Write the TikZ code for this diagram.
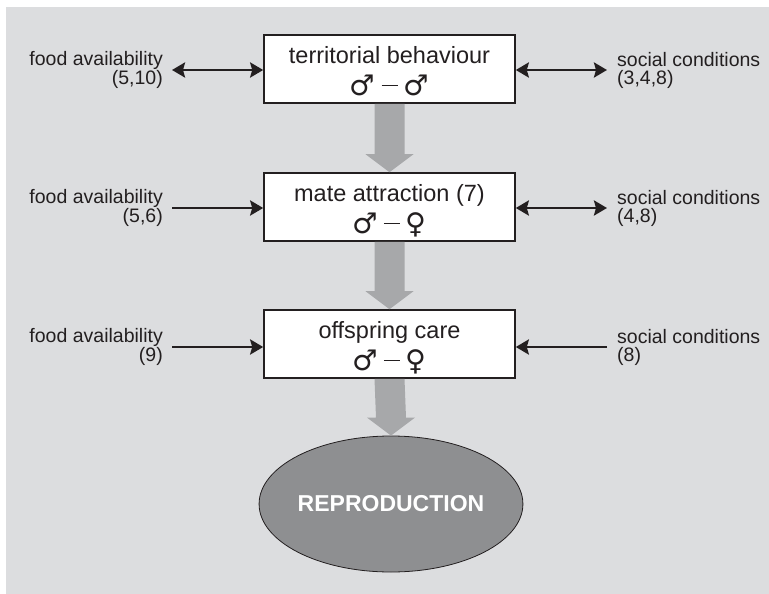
\documentclass[tikz,border=0pt]{standalone}
\usepackage{fontspec}
\setmainfont{Liberation Sans}
\newfontfamily\symfont{DejaVu Sans}
\usetikzlibrary{calc,arrows.meta,shapes.geometric}
\definecolor{bgc}{HTML}{DCDDDF}
\definecolor{flowc}{HTML}{A7A8AA}
\definecolor{ellc}{HTML}{8E8F91}
\definecolor{ink}{HTML}{231F20}
\newcommand{\mal}{{\symfont\fontsize{28.5}{30}\selectfont ♂}}
\newcommand{\fem}{{\symfont\fontsize{28.5}{30}\selectfont ♀}}
\newcommand{\dsh}{\hspace{6pt}\rule[9pt]{16pt}{1.6pt}\hspace{6pt}}
\tikzset{
  stagebox/.style={draw=ink, line width=1.6pt, fill=white, minimum width=251pt, minimum height=68pt, inner sep=0pt},
  stagetext/.style={text=ink, font=\fontsize{23.5}{28}\selectfont, inner sep=0pt, anchor=base},
  sextext/.style={text=ink, font=\fontsize{23.5}{28}\selectfont, inner sep=0pt, anchor=base},
  sidetext/.style={text=ink, font=\fontsize{19.5}{18}\selectfont, inner sep=0pt},
  ltext/.style={sidetext, align=right, anchor=east},
  rtext/.style={sidetext, align=left, anchor=west},
  tip/.tip={Stealth[length=13pt,width=15pt,inset=2pt]},
  link/.style={draw=ink, line width=2.8pt, -tip},
  dlink/.style={draw=ink, line width=2.8pt, tip-tip},
  flow/.style={fill=flowc}
}
\begin{document}
\begin{tikzpicture}[x=1pt,y=-1pt]
\useasboundingbox (0,0) rectangle (769,594);
\fill[bgc] (6,7) rectangle (769,594);

% stage boxes
\node[stagebox] (b1) at (389.5,69) {};
\node[stagebox] (b2) at (389.5,207) {};
\node[stagebox] (b3) at (389.5,344) {};
\node[stagetext] (t1) at ($(b1.north)+(0,29)$) {territorial behaviour};
\node[sextext] (s1) at ($(b1.north)+(0,61)$) {\mal\dsh\mal};
\node[stagetext] (t2) at ($(b2.north)+(0,29)$) {mate attraction (7)};
\node[sextext] (s2) at ($(b2.north)+(0,61)$) {\mal\dsh\fem};
\node[stagetext] (t3) at ($(b3.north)+(0,29)$) {offspring care};
\node[sextext] (s3) at ($(b3.north)+(0,61)$) {\mal\dsh\fem};

% reproduction
\node[ellipse, draw=ink, line width=0.8pt, fill=ellc, minimum width=230pt, minimum height=136pt, inner sep=0pt, text=white, font=\bfseries\fontsize{23}{28}\selectfont] (rep) at (391,504) {REPRODUCTION};

% side texts
\node[ltext] (lf1) at (163,70) {food availability\\(5,10)};
\node[ltext] (lf2) at (163,208) {food availability\\(5,6)};
\node[ltext] (lf3) at (163,347) {food availability\\(9)};
\node[rtext] (rs1) at (617,70) {social conditions\\(3,4,8)};
\node[rtext] (rs2) at (617,208) {social conditions\\(4,8)};
\node[rtext] (rs3) at (617,347) {social conditions\\(8)};

% side arrows
\draw[dlink] ([xshift=9pt]lf1.east) -- (b1.west |- lf1.east);
\draw[link] ([xshift=9pt]lf2.east) -- (b2.west |- lf2.east);
\draw[link] ([xshift=9pt]lf3.east) -- (b3.west |- lf3.east);
\draw[dlink] (b1.east |- rs1.west) -- ([xshift=-10pt]rs1.west);
\draw[dlink] (b2.east |- rs2.west) -- ([xshift=-10pt]rs2.west);
\draw[link] ([xshift=-10pt]rs3.west) -- (b3.east |- rs3.west);

% flow arrows
\fill[flow] ($(b1.south)+(-15,0)$) -- ($(b2.north)+(-15,-18)$) -- ($(b2.north)+(-24,-18)$) -- (b2.north) -- ($(b2.north)+(24,-18)$) -- ($(b2.north)+(15,-18)$) -- ($(b1.south)+(15,0)$) -- cycle;
\fill[flow] ($(b2.south)+(-15,0)$) -- ($(b3.north)+(-15,-18)$) -- ($(b3.north)+(-24,-18)$) -- (b3.north) -- ($(b3.north)+(24,-18)$) -- ($(b3.north)+(15,-18)$) -- ($(b2.south)+(15,0)$) -- cycle;
\fill[flow] ($(b3.south)+(-15,0)$) -- ($(rep.north)+(-15,-18)$) -- ($(rep.north)+(-24,-18)$) -- (rep.north) -- ($(rep.north)+(24,-18)$) -- ($(rep.north)+(15,-18)$) -- ($(b3.south)+(15,0)$) -- cycle;
\end{tikzpicture}
\end{document}
